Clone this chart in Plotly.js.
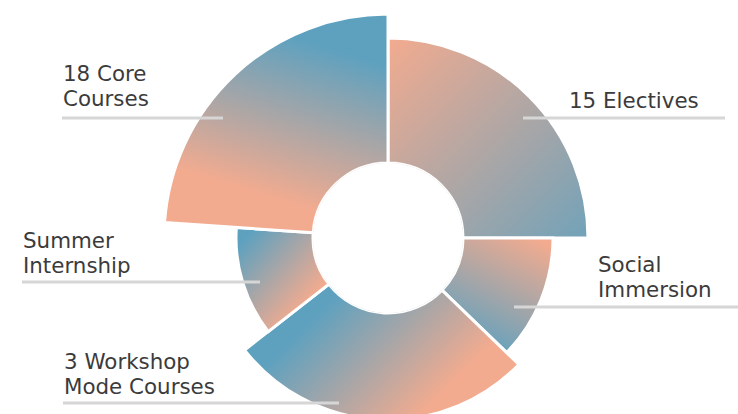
<!DOCTYPE html>
<html>
<head>
<meta charset="utf-8">
<script src="https://cdn.plot.ly/plotly-3.0.1.min.js"></script>
<style>
  html, body { margin: 0; padding: 0; background: #ffffff; overflow: hidden; }
  #chart { width: 738px; height: 476px; }
</style>
</head>
<body>
<div id="chart"></div>
<script>
// ---- data ----
var segmentNames = ['15 Electives', 'Social Immersion', '3 Workshop Mode Courses', 'Summer Internship', '18 Core Courses'];
var angleSpan   = [90, 44, 98, 42, 86];      // degrees of the circle each segment spans (clockwise from 12 o'clock)
var ringDepth   = [125, 90, 107, 77, 149];   // radial depth of each segment beyond the hole
var labelLines  = [['15 Electives'], ['Social', 'Immersion'], ['3 Workshop', 'Mode Courses'], ['Summer', 'Internship'], ['18 Core', 'Courses']];

// ---- styling / layout config ----
var W = 738, H = 476;
var BLUE = '#5ea1bf', PEACH = '#f3ab8f';
var center = {x: 388, y: 238}, outerR = 230, holeR = 75;
var depthMax = 155;

// gradient direction per segment (objectBoundingBox units): [x1,y1,x2,y2, startColor, endColor]
var gradients = [
  [0.0, 0.0, 1.15, 1.15, PEACH, BLUE],
  [0.85, 0.0, 0.35, 1.0, PEACH, BLUE],
  [0.2, 0.35, 0.8, 0.65, BLUE, PEACH],
  [0.1, 0.1, 0.75, 0.75, BLUE, PEACH],
  [0.62, 0.12, 0.40, 0.82, BLUE, PEACH]
];

// label placement: anchor x, first-line baseline y, anchor side; leader line x0,x1,y (pixels from top-left)
var labelPlace = [
  {x: 701, base: 107, anchor: 'right', lx0: 523, lx1: 725, ly: 118},
  {x: 596, base: 271, anchor: 'left',  lx0: 514, lx1: 738, ly: 307},
  {x: 62,  base: 368, anchor: 'left',  lx0: 63,  lx1: 339, ly: 403},
  {x: 21,  base: 247, anchor: 'left',  lx0: 22,  lx1: 260, ly: 282},
  {x: 61,  base: 80,  anchor: 'left',  lx0: 62,  lx1: 223, ly: 118}
];
var FONT = 'DejaVu Sans', FSIZE = 21.4;
var lineStep = 25;              // px between baselines
var ascentPx = 1 + 0.928 * FSIZE; // box top to first baseline

function px(x) { return x / W; }
function py(y) { return 1 - y / H; }

// segment centres from cumulative spans
var thetaMid = [];
var acc = 0;
for (var i = 0; i < angleSpan.length; i++) {
  thetaMid.push(acc + angleSpan[i] / 2);
  acc += angleSpan[i];
}

var trace = {
  type: 'barpolar',
  r: ringDepth,
  theta: thetaMid,
  width: angleSpan,
  text: segmentNames,
  marker: { color: BLUE, line: { color: '#ffffff', width: 3 } },
  hoverinfo: 'none',
  showlegend: false
};

var annotations = [];
var shapes = [];
labelLines.forEach(function (lines, k) {
  var p = labelPlace[k];
  annotations.push({
    xref: 'paper', yref: 'paper',
    x: px(p.x), y: py(p.base - ascentPx),
    xanchor: p.anchor, yanchor: 'top', align: p.anchor,
    text: lines.join('<br>'), showarrow: false,
    font: { family: FONT, size: FSIZE, color: '#3b3b3b' }
  });
  shapes.push({
    type: 'line', xref: 'paper', yref: 'paper', layer: 'above',
    x0: px(p.lx0), x1: px(p.lx1), y0: py(p.ly), y1: py(p.ly),
    line: { color: '#d6d6d6', width: 3 }
  });
});

var layout = {
  width: W, height: H,
  margin: { l: 0, r: 0, t: 0, b: 0 },
  paper_bgcolor: '#ffffff',
  showlegend: false,
  polar: {
    domain: {
      x: [px(center.x - outerR), px(center.x + outerR)],
      y: [1 - (center.y + outerR) / H, 1 - (center.y - outerR) / H]
    },
    hole: holeR / outerR,
    bgcolor: 'rgba(0,0,0,0)',
    radialaxis: { visible: false, range: [0, depthMax] },
    angularaxis: { visible: false, rotation: 90, direction: 'clockwise' }
  },
  annotations: annotations,
  shapes: shapes
};

Plotly.newPlot('chart', [trace], layout, { staticPlot: true, displayModeBar: false }).then(function (gd) {
  var svg = gd.querySelector('svg.main-svg');
  var NS = 'http://www.w3.org/2000/svg';
  var defs = document.createElementNS(NS, 'defs');
  svg.insertBefore(defs, svg.firstChild);
  gradients.forEach(function (g, k) {
    var lg = document.createElementNS(NS, 'linearGradient');
    lg.setAttribute('id', 'segGrad' + k);
    lg.setAttribute('x1', g[0]); lg.setAttribute('y1', g[1]);
    lg.setAttribute('x2', g[2]); lg.setAttribute('y2', g[3]);
    [[0, g[4]], [1, g[5]]].forEach(function (s) {
      var st = document.createElementNS(NS, 'stop');
      st.setAttribute('offset', s[0]);
      st.setAttribute('stop-color', s[1]);
      lg.appendChild(st);
    });
    defs.appendChild(lg);
  });
  var paths = gd.querySelectorAll('.barlayer .point path');
  paths.forEach(function (p, k) {
    p.style.fill = 'url(#segGrad' + k + ')';
  });
  // multi-line label spacing to match the reference
  gd.querySelectorAll('.annotation-text').forEach(function (t) {
    var ls = t.querySelectorAll('tspan.line');
    ls.forEach(function (tsp, n) {
      tsp.setAttribute('dy', (n * lineStep) + 'px');
    });
  });
});
</script>
</body>
</html>
